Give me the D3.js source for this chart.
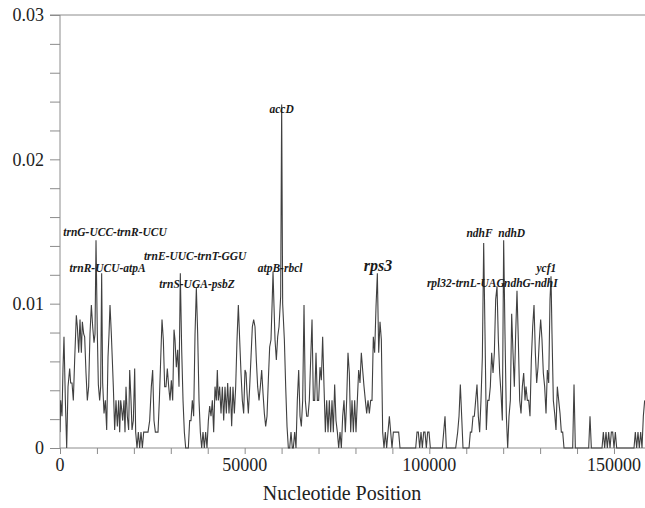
<!DOCTYPE html>
<html>
<head>
<meta charset="utf-8">
<script src="https://cdn.jsdelivr.net/npm/d3@7"></script>
<style>
  body { margin: 0; background: #fff; }
  svg { display: block; }
  text { font-family: "Liberation Serif", "Times New Roman", serif; }
</style>
</head>
<body>
<div id="chart"></div>
<script>
// sliding window nucleotide diversity: [position (kb), Pi]
var piWindows = [
  [0,0.0011],[0.18,0.0033],[0.54,0.0022],[0.81,0.0055],[1.08,0.0077],[1.45,0.0033],[1.81,0],[2.17,0.00425],
  [2.62,0.0055],[2.89,0.0045],[3.25,0.0045],[3.61,0.0033],[3.97,0.0061],[4.42,0.0092],[4.70,0.0084],[5.06,0.0066],
  [5.42,0.0089],[5.78,0.0066],[6.05,0.00875],[6.41,0.0079],[6.68,0.0077],[7.04,0.0052],[7.40,0.0033],[7.76,0.00425],
  [8.12,0.0079],[8.49,0.0099],[8.85,0.0084],[9.21,0.0073],[9.48,0.0079],[9.75,0.0144],[10.11,0.0079],[10.38,0.0044],
  [10.74,0.0033],[11.01,0.00425],[11.28,0.0121],[11.55,0.0045],[11.92,0.0024],[12.28,0.0033],[12.64,0.00125],[13.00,0.0063],
  [13.27,0.0079],[13.54,0.0099],[13.90,0.0079],[14.17,0.0061],[14.44,0.00425],[14.80,0.00125],[15.16,0.0033],[15.53,0.0015],
  [15.89,0.0033],[16.16,0.0011],[16.43,0.0033],[16.61,0.0029],[16.97,0.0019],[17.33,0.0033],[17.60,0.0011],[17.87,0.00425],
  [18.23,0.0022],[18.59,0.00125],[18.87,0.0054],[19.23,0.0033],[19.50,0.00125],[19.86,0.0019],[20.22,0.0055],[20.49,0.0011],
  [20.85,0],[21.21,0.0011],[21.57,0],[21.93,0.0011],[22.30,0],[22.66,0.0011],[23.38,0.0011],[23.83,0.0011],
  [24.28,0.0019],[24.73,0.00425],[25.09,0.0054],[25.45,0.0019],[25.82,0.0011],[26.54,0.0011],[26.90,0.0033],[27.26,0.0061],
  [27.62,0.0089],[27.98,0.0075],[28.34,0.00425],[28.70,0.00425],[29.06,0.0055],[29.43,0.00425],[29.79,0.0033],[30.15,0.0047],
  [30.51,0.0033],[30.87,0.0082],
  [31.14,0.0075],[31.50,0.0056],[31.86,0.0068],[32.22,0.00425],[32.58,0.0121],[32.95,0.0068],[33.31,0.0033],[33.67,0.0011],
  [34.03,0],[34.39,0],[34.75,0],[35.11,0.0019],[35.47,0.0019],[35.83,0.0033],[36.19,0.0022],[36.56,0.0079],
  [36.92,0.0111],[37.28,0.0079],[37.64,0.0033],[38.00,0.0011],[38.36,0],[38.72,0.0011],[39.08,0],[39.44,0.0011],
  [39.80,0],[40.17,0.0019],[40.53,0.0029],[40.89,0.0022],[41.25,0.0033],[41.61,0.0011],[41.97,0.00425],[42.33,0.0033],
  [42.60,0.0054],[42.87,0.0033],[43.23,0.00425],[43.60,0.0024],[43.96,0.00425],[44.32,0.0019],[44.68,0.00425],[45.04,0.0024],
  [45.40,0.0045],[45.76,0.0024],[46.12,0.00425],[46.48,0.0015],[46.84,0.00425],[47.21,0.0024],[47.57,0.00425],[47.93,0.0075],
  [48.29,0.0099],[48.65,0.0075],[49.01,0.0052],[49.37,0.0033],[49.73,0.0024],[50.09,0.0054],[50.37,0.0052],[50.64,0.0038],
  [51.00,0.0024],[51.36,0.00425],[51.72,0.0063],[52.08,0.0084],[52.44,0.0089],[52.80,0.0084],[53.16,0.0061],[53.52,0.00425],
  [53.89,0.0033],[54.25,0.00425],[54.61,0.0054],[54.97,0.0038],[55.33,0.0024],[55.69,0.0015],[56.05,0.0022],[56.41,0.0047],
  [56.77,0.0070],[57.13,0.0075],[57.41,0.0098],[57.68,0.0122],[57.95,0.0098],[58.22,0.0075],[58.58,0.0061],[58.94,0.0077],
  [59.30,0.0084],[59.75,0.0105],[60.02,0.0238],[60.29,0.0100],[60.75,0.0075],[61.11,0.00425],[61.47,0.0015],[61.83,0],
  [62.19,0],[62.55,0.0011],[62.91,0],
  [63.18,0],[63.54,0.0011],[63.90,0],[64.26,0.0033],[64.63,0.0054],[64.99,0.0022],[65.35,0.0015],[65.71,0.0033],
  [66.07,0.0099],[66.43,0.0033],[66.79,0.0022],[67.15,0.0022],[67.51,0.0033],[67.87,0.0061],[68.24,0.0089],[68.60,0.0033],
  [68.96,0.0033],[69.32,0.0066],[69.68,0.0033],[70.04,0.0033],[70.40,0.0056],[70.76,0.0047],[71.12,0.0077],[71.49,0.00425],
  [71.85,0.0011],[72.21,0.0033],[72.57,0.0011],[72.93,0.0033],[73.29,0.0011],[73.65,0.0033],[74.01,0.0011],[74.37,0.0044],
  [74.73,0.0019],[75.10,0.0011],[75.46,0],[75.82,0.0011],[76.18,0],[76.54,0.0022],[76.90,0.0033],[77.26,0.0011],
  [77.62,0.0033],[77.98,0.0066],[78.34,0.0052],[78.71,0.0011],[79.07,0.0033],[79.43,0.0011],[79.79,0.0033],[80.15,0.0011],
  [80.51,0.0033],[80.87,0.0054],[81.23,0.0045],[81.59,0.0066],[81.95,0.0054],[82.32,0.00425],[82.68,0.0033],[83.04,0.0024],
  [83.40,0.0033],[83.76,0.0024],[84.12,0.0033],[84.48,0.0033],[84.84,0.0077],[85.20,0.0066],[85.57,0.0098],[85.93,0.0121],
  [86.29,0.0066],[86.65,0.00875],[87.01,0.0075],[87.37,0.0011],[87.73,0],[88.09,0.0011],[88.45,0],[88.81,0.0011],
  [89.18,0.0022],[89.54,0.0011],[89.90,0],[90.26,0.0011],[90.80,0.0011],[91.34,0.0011],[91.70,0.0011],[92.06,0],
  [94.50,0],[96.31,0],[96.67,0.0011],[97.03,0.0011],[97.39,0],[97.75,0.0011],[98.11,0],[98.47,0.0011],
  [98.83,0.0011],[99.19,0],[99.55,0.0011],[99.92,0.0011],[100.28,0],[103.53,0],[103.89,0.0011],[104.25,0.0022],
  [104.61,0],[107.14,0],[107.68,0.0011],[108.04,0.0022],[108.40,0.0044],[108.76,0.0022],[109.12,0],[110.75,0],
  [111.11,0.0011],[111.47,0.0011],[111.83,0.0022],[112.19,0.0022],[112.55,0.0033],[112.91,0.0044],[113.27,0.0022],[113.63,0.0011],
  [113.99,0.0033],[114.36,0.0063],[114.72,0.0142],[115.08,0.0079],[115.44,0.00125],[115.80,0.0033],[116.16,0.0033],[116.52,0.00425],
  [116.88,0.0066],[117.25,0.0052],[117.61,0.0066],[117.97,0.0103],[118.33,0.0112],[118.69,0.0075],[119.05,0.0052],[119.41,0.0038],
  [119.77,0.0019],[120.13,0.0144],[120.49,0.0079],[120.86,0.0022],[121.22,0],[121.58,0.0022],[121.94,0.0033],[122.30,0.0093],
  [122.66,0.0066],[123.02,0.00425],[123.38,0.0079],[123.74,0.0109],[124.10,0.0075],[124.47,0.0033],[124.83,0.0024],[125.19,0.00425],
  [125.55,0.0052],[125.91,0.0033],
  [126.18,0.00425],[126.54,0.0033],[126.90,0.0033],[127.26,0.0022],[127.62,0.0061],[127.99,0.0084],[128.35,0.0099],[128.71,0.0066],
  [129.07,0.0045],[129.43,0.0056],[129.79,0.0075],[130.15,0.0089],[130.51,0.0075],[130.87,0.0052],[131.23,0.00425],[131.60,0.0024],
  [131.96,0.0054],[132.32,0.0045],[132.68,0.0103],[132.95,0.0119],[133.22,0.0079],[133.58,0.0033],[133.94,0.0024],[134.30,0.00125],
  [134.66,0.00425],[135.03,0.0033],[135.39,0.0024],[135.75,0.0011],[136.11,0.0011],[136.47,0],[138.82,0],[139.18,0.0044],
  [139.54,0],[143.15,0],[143.51,0.0022],[143.87,0],[146.76,0],[147.12,0.0011],[147.48,0],[147.84,0.0011],
  [148.20,0],[148.56,0.0011],[148.93,0],[149.29,0.0011],[149.65,0.0011],[150.01,0],[150.37,0.0011],[150.73,0],
  [155.42,0],[155.78,0.0011],[156.14,0],[156.50,0.0011],[156.86,0],[157.23,0.0011],[157.59,0],[157.95,0.0022],
  [158.31,0.0033]
];

var geneLabels = ["trnG-UCC-trnR-UCU","trnR-UCU-atpA","trnE-UUC-trnT-GGU","trnS-UGA-psbZ","accD","atpB-rbcl",
                  "rps3","ndhF","ndhD","rpl32-trnL-UAG","ndhG-ndhI","ycf1"];
var geneLabelKb = [14.9, 12.9, 36.6, 37.1, 60.0, 59.6, 86.1, 113.6, 122.3, 109.9, 127.5, 131.7];
var geneLabelPi = [0.01469, 0.01219, 0.01303, 0.01109, 0.02321, 0.01219, 0.01226, 0.01464, 0.01464, 0.01116, 0.01116, 0.0122];

var yMajor = [0, 0.01, 0.02, 0.03];
var yMajorText = ["0", "0.01", "0.02", "0.03"];
var xMajor = [0, 50000, 100000, 150000];

var W = 645, H = 508;
var plotLeft = 60, plotTop = 15, plotRight = 645, plotBottom = 448;

var svg = d3.select("#chart").append("svg")
  .attr("width", W)
  .attr("height", H)

var x = d3.scaleLinear().domain([0, 158400]).range([plotLeft, plotRight])
var y = d3.scaleLinear().domain([0, 0.03]).range([plotBottom, plotTop])

var axisCol = "#8c8c8c"

// y axis: minor ticks every 0.002
var yTicks = d3.range(0, 16).map(function(i){ return i * 0.002 })
var yAxis = svg.append("g")
  .attr("transform", "translate(" + plotLeft + ",0)")
  .call(d3.axisLeft(y).tickValues(yTicks).tickSize(10).tickFormat(""))
yAxis.select(".domain").attr("stroke", axisCol).attr("d", "M0," + plotTop + "V" + plotBottom)
yAxis.selectAll(".tick line").attr("stroke", axisCol)

svg.selectAll(".ylab")
  .data(yMajor)
  .enter().append("text")
  .attr("x", 44)
  .attr("y", function(d){ return y(d) })
  .attr("dy", "0.35em")
  .attr("text-anchor", "end")
  .attr("font-size", "18px")
  .attr("fill", "#222")
  .text(function(d, i){ return yMajorText[i] })

// x axis: ticks every 10000
var xTicks = d3.range(0, 16).map(function(i){ return i * 10000 })
var xAxis = svg.append("g")
  .attr("transform", "translate(0," + plotBottom + ")")
  .call(d3.axisBottom(x).tickValues(xTicks).tickSize(6).tickFormat(""))
xAxis.select(".domain").attr("stroke", axisCol).attr("d", "M" + plotLeft + ",0H" + plotRight)
xAxis.selectAll(".tick line").attr("stroke", axisCol)

svg.selectAll(".xlab")
  .data(xMajor)
  .enter().append("text")
  .attr("x", function(d){ return x(d) })
  .attr("y", 471)
  .attr("text-anchor", "middle")
  .attr("font-size", "18px")
  .attr("fill", "#222")
  .text(function(d){ return d })

// frame top
svg.append("line")
  .attr("x1", plotLeft - 10).attr("x2", plotRight)
  .attr("y1", plotTop).attr("y2", plotTop)
  .attr("stroke", axisCol)

svg.append("text")
  .attr("x", 342)
  .attr("y", 500)
  .attr("text-anchor", "middle")
  .attr("font-size", "20px")
  .attr("fill", "#222")
  .text("Nucleotide Position")

// diversity line
svg.append("clipPath").attr("id", "clip")
  .append("rect").attr("x", plotLeft).attr("y", 0).attr("width", plotRight - plotLeft).attr("height", plotBottom + 1)

var line = d3.line()
  .x(function(d){ return x(d[0] * 1000) })
  .y(function(d){ return y(d[1]) })

svg.append("path")
  .datum(piWindows)
  .attr("clip-path", "url(#clip)")
  .attr("fill", "none")
  .attr("stroke", "#404040")
  .attr("stroke-width", 1.1)
  .attr("d", line)

// gene annotations
svg.selectAll(".gene")
  .data(geneLabels)
  .enter().append("text")
  .attr("x", function(d, i){ return x(geneLabelKb[i] * 1000) })
  .attr("y", function(d, i){ return y(geneLabelPi[i]) })
  .attr("text-anchor", "middle")
  .attr("font-size", function(d){ return d == "rps3" ? "16px" : "11.5px" })
  .attr("font-weight", "bold")
  .attr("font-style", "italic")
  .attr("fill", "#1a1a1a")
  .text(function(d){ return d })
</script>
</body>
</html>
